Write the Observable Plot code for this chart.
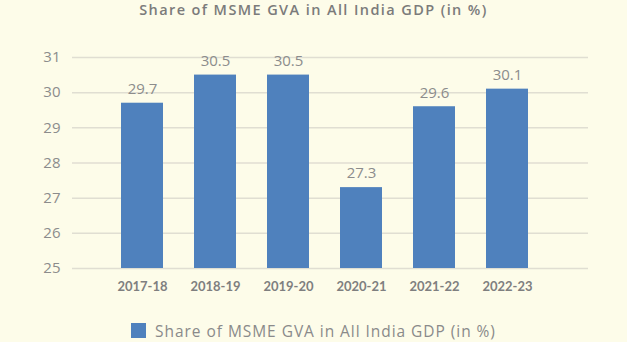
<!DOCTYPE html>
<html>
<head>
<meta charset="utf-8">
<script src="https://cdn.jsdelivr.net/npm/d3@7"></script>
<script src="https://cdn.jsdelivr.net/npm/@observablehq/plot@0.6"></script>
<style>
  html, body { margin: 0; padding: 0; background: #fdfce9; width: 627px; height: 342px; overflow: hidden; }
  #title { height: 30px; line-height: 38px; text-align: center; font: 600 14.5px "Open Sans", sans-serif; letter-spacing: 1.4px; color: #7b7b7b; }
  #legend { display: flex; align-items: center; justify-content: center; margin-top: 25px; height: 15px; font: 15.5px "Open Sans", sans-serif; letter-spacing: 0.95px; color: #8a8a8a; }
  #legend .sw { width: 15px; height: 15px; background: #4f81bd; margin-right: 9px; }
</style>
</head>
<body>
<div id="title"></div>
<div id="chart"></div>
<div id="legend"><div class="sw"></div><span id="legtext"></span></div>
<script>
const years = ["2017-18", "2018-19", "2019-20", "2020-21", "2021-22", "2022-23"];
const shares = [29.7, 30.5, 30.5, 27.3, 29.6, 30.1];
const yTicks = [25, 26, 27, 28, 29, 30, 31];
const seriesName = "Share of MSME GVA in All India GDP (in %)";
const titleText = "Share of MSME GVA in All India GDP (in %)";

document.getElementById("title").textContent = titleText;
document.getElementById("legtext").textContent = seriesName;

const data = years.map((y, i) => ({year: y, share: shares[i]}));

const chart = Plot.plot({
  width: 627,
  height: 268,
  marginTop: 27,
  marginBottom: 30,
  marginLeft: 72,
  marginRight: 39,
  style: {background: "transparent", fontFamily: "'Open Sans', sans-serif", color: "#8a8a8a"},
  x: {domain: years, range: [103, 546], paddingInner: 0.43, paddingOuter: 0.215, label: null},
  y: {domain: [25, 31], label: null},
  marks: [
    Plot.ruleY(yTicks, {stroke: "#e0ded2", strokeWidth: 1.5}),
    Plot.barY(data, {x: "year", y1: 25, y2: "share", fill: "#4f81bd"}),
    Plot.text(data, {x: "year", y: "share", text: d => d.share.toFixed(1), dy: -14, fontSize: 15, fill: "#8c8c8c"}),
    Plot.axisY({ticks: yTicks, tickFormat: "d", tickSize: 0, tickPadding: 12, fontSize: 15, fill: "#8c8c8c", label: null}),
    Plot.axisX({tickSize: 0, tickPadding: 13, fontSize: 13, fontWeight: "bold", fontFamily: "Lato, sans-serif", fill: "#7f7f7f", label: null})
  ]
});
document.getElementById("chart").appendChild(chart);
</script>
</body>
</html>
